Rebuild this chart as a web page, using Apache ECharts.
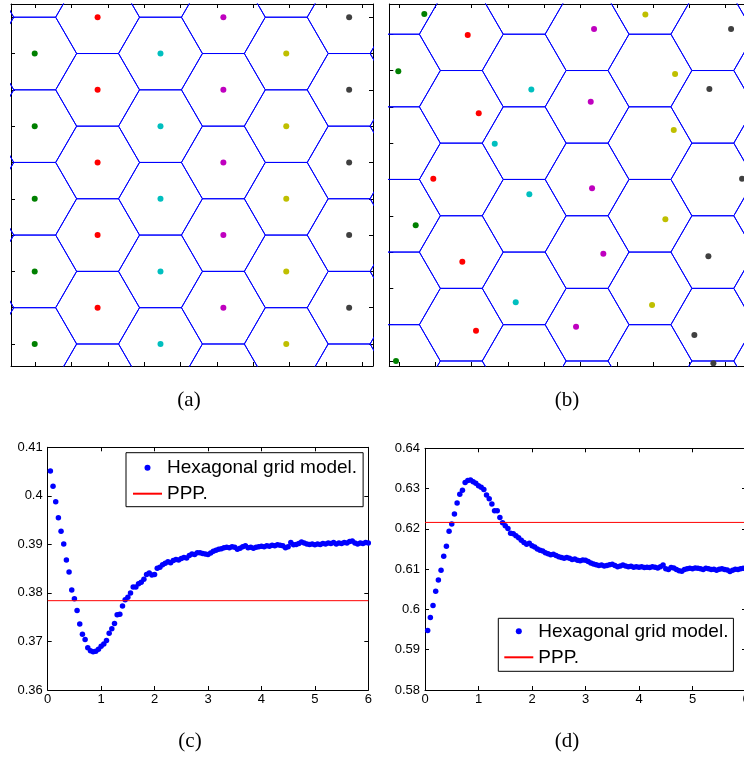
<!DOCTYPE html>
<html>
<head>
<meta charset="utf-8">
<script src="https://cdn.jsdelivr.net/npm/echarts@6.0.0/dist/echarts.min.js"></script>
<style>
html,body{margin:0;padding:0;background:#fff;}
#chart{width:744px;height:757px;}
</style>
</head>
<body>
<div id="chart"></div>
<script>
// ---------- Panels (a) and (b): hexagonal lattices and points ----------
// hexagon centre columns (axis units) and the first centre row of each column (rows every 2 units)
const hexColsA = [-1.079, 0.653, 2.385, 4.117, 5.849, 7.581, 9.313, 11.045];
const hexRow0A = [1.606, 0.606, 1.606, 0.606, 1.606, 0.606, 1.606, 0.606];
const hexColsB = [-1.481, 0.251, 1.983, 3.715, 5.447, 7.179, 8.911, 10.643];
const hexRow0B = [1.138, 0.138, 1.138, 0.138, 1.138, 0.138, 1.138, 0.138];
const rangeAB = [0, 9.97];

const ticksXA = [0.67, 1.67, 2.67, 3.67, 4.67, 5.67, 6.67, 7.67, 8.67, 9.67];
const ticksYA = [0.606, 1.606, 2.606, 3.606, 4.606, 5.606, 6.606, 7.606, 8.606, 9.606];
const ticksXB = [0.265, 1.265, 2.265, 3.265, 4.265, 5.265, 6.265, 7.265, 8.265, 9.265];
const ticksYB = [0.138, 1.138, 2.138, 3.138, 4.138, 5.138, 6.138, 7.138, 8.138, 9.138];

// (a) points (on the lattice)
const aGreen   = [[0.653,0.606],[0.653,2.606],[0.653,4.606],[0.653,6.606],[0.653,8.606]];
const aRed     = [[2.385,1.606],[2.385,3.606],[2.385,5.606],[2.385,7.606],[2.385,9.606]];
const aCyan    = [[4.117,0.606],[4.117,2.606],[4.117,4.606],[4.117,6.606],[4.117,8.606]];
const aMagenta = [[5.849,1.606],[5.849,3.606],[5.849,5.606],[5.849,7.606],[5.849,9.606]];
const aYellow  = [[7.581,0.606],[7.581,2.606],[7.581,4.606],[7.581,6.606],[7.581,8.606]];
const aGray    = [[9.313,1.606],[9.313,3.606],[9.313,5.606],[9.313,7.606],[9.313,9.606]];

// (b) points (perturbed)
const bGreen   = [[0.964,9.697],[0.248,8.118],[0.727,3.876],[0.185,0.138]];
const bRed     = [[2.160,9.118],[2.463,6.961],[1.212,5.160],[2.011,2.873],[2.388,0.972]];
const bCyan    = [[3.912,7.612],[2.904,6.124],[3.857,4.730],[3.482,1.755]];
const bMagenta = [[5.639,9.284],[5.548,7.281],[5.584,4.895],[5.895,3.094],[5.143,1.083]];
const bYellow  = [[7.052,9.678],[7.871,8.044],[7.835,6.501],[7.603,4.041],[7.237,1.680]];
const bGray    = [[9.413,9.284],[8.815,7.631],[9.716,5.160],[8.788,3.022],[8.402,0.854],[8.926,0.074]];

const dotColors = ['#008000','#ff0000','#00bfbf','#bf00bf','#bfbf00','#404040'];

// ---------- Panels (c) and (d) ----------
const xVals = [
 0.05,0.1,0.15,0.2,0.25,0.3,0.35,0.4,0.45,0.5,0.55,0.6,0.65,0.7,0.75,0.8,0.85,0.9,0.95,1,
 1.05,1.1,1.15,1.2,1.25,1.3,1.35,1.4,1.45,1.5,1.55,1.6,1.65,1.7,1.75,1.8,1.85,1.9,1.95,2,
 2.05,2.1,2.15,2.2,2.25,2.3,2.35,2.4,2.45,2.5,2.55,2.6,2.65,2.7,2.75,2.8,2.85,2.9,2.95,3,
 3.05,3.1,3.15,3.2,3.25,3.3,3.35,3.4,3.45,3.5,3.55,3.6,3.65,3.7,3.75,3.8,3.85,3.9,3.95,4,
 4.05,4.1,4.15,4.2,4.25,4.3,4.35,4.4,4.45,4.5,4.55,4.6,4.65,4.7,4.75,4.8,4.85,4.9,4.95,5,
 5.05,5.1,5.15,5.2,5.25,5.3,5.35,5.4,5.45,5.5,5.55,5.6,5.65,5.7,5.75,5.8,5.85,5.9,5.95,6
];
const hexModelC = [
 0.4051,0.4020,0.3988,0.3955,0.3927,0.3901,0.3868,0.3843,0.3806,0.3788,
 0.3764,0.3736,0.3715,0.3704,0.3687,0.3681,0.3679,0.3680,0.3684,0.3690,
 0.3695,0.3702,0.3717,0.3726,0.3737,0.3755,0.3756,0.3773,0.3786,0.3791,
 0.3800,0.3812,0.3812,0.3819,0.3822,0.3828,0.3838,0.3841,0.3837,0.3838,
 0.3851,0.3853,0.3858,0.3861,0.3864,0.3862,0.3867,0.3869,0.3868,0.3871,
 0.3873,0.3872,0.3877,0.3880,0.3879,0.3883,0.3883,0.3881,0.3880,0.3879,
 0.3882,0.3886,0.3888,0.3890,0.3891,0.3893,0.3894,0.3893,0.3895,0.3894,
 0.3890,0.3892,0.3895,0.3897,0.3893,0.3894,0.3892,0.3894,0.3895,0.3896,
 0.3895,0.3897,0.3896,0.3898,0.3897,0.3899,0.3898,0.3897,0.3893,0.3895,
 0.3904,0.3899,0.3900,0.3902,0.3905,0.3903,0.3901,0.3900,0.3901,0.3899,
 0.3901,0.3900,0.3902,0.3901,0.3903,0.3902,0.3904,0.3901,0.3903,0.3902,
 0.3904,0.3903,0.3906,0.3907,0.3903,0.3901,0.3903,0.3902,0.3904,0.3903
];
const pppC = 0.3784;
const hexModelD = [
 0.5948,0.5980,0.6010,0.6045,0.6073,0.6097,0.6132,0.6157,0.6194,0.6212,
 0.6237,0.6264,0.6286,0.6296,0.6315,0.6320,0.6321,0.6317,0.6313,0.6307,
 0.6303,0.6298,0.6284,0.6275,0.6262,0.6245,0.6245,0.6228,0.6215,0.6208,
 0.6201,0.6189,0.6188,0.6183,0.6178,0.6172,0.6166,0.6162,0.6164,0.6158,
 0.6155,0.6150,0.6147,0.6145,0.6141,0.6138,0.6136,0.6137,0.6134,0.6131,
 0.6129,0.6127,0.6129,0.6127,0.6124,0.6125,0.6122,0.6121,0.6123,0.6122,
 0.6119,0.6115,0.6113,0.6111,0.6109,0.6110,0.6108,0.6109,0.6111,0.6112,
 0.6109,0.6106,0.6108,0.6110,0.6108,0.6106,0.6107,0.6105,0.6106,0.6105,
 0.6106,0.6104,0.6105,0.6104,0.6106,0.6105,0.6103,0.6106,0.6110,0.6101,
 0.6099,0.6104,0.6103,0.6099,0.6096,0.6095,0.6099,0.6101,0.6102,0.6101,
 0.6103,0.6102,0.6101,0.6099,0.6102,0.6101,0.6099,0.6100,0.6097,0.6100,
 0.6101,0.6099,0.6098,0.6094,0.6097,0.6100,0.6099,0.6101,0.6102,0.6100
];
const pppD = 0.6216;

const ticksXC = [0, 1, 2, 3, 4, 5, 6];
const ticksYC = [0.36, 0.37, 0.38, 0.39, 0.40, 0.41];
const ticksXD = [0, 1, 2, 3, 4, 5, 6];
const ticksYD = [0.58, 0.59, 0.60, 0.61, 0.62, 0.63, 0.64];

const legendNames = ['Hexagonal grid model.', 'PPP.'];
const captions = ['(a)', '(b)', '(c)', '(d)'];

// ---------- build ----------
const HEX_R = 2 / Math.sqrt(3);   // circumradius for rows 2 units apart
function hexOutlines(cols, row0, yHi) {
  const pts = [];
  cols.forEach(function (cx, i) {
    for (let cy = row0[i] - 2; cy <= yHi + 2; cy += 2) {
      pts.push([cx + HEX_R, cy], [cx + HEX_R / 2, cy + 1], [cx - HEX_R / 2, cy + 1],
               [cx - HEX_R, cy], [cx - HEX_R / 2, cy - 1], [cx + HEX_R / 2, cy - 1],
               [cx + HEX_R, cy], ['-', '-']);
    }
  });
  return pts;
}

const labelFont = {fontFamily: 'Liberation Sans', fontSize: 13, color: '#000'};
const xAxes = [], yAxes = [];
function addFrame(gi, xr, yr, opts) {
  const base = {
    gridIndex: gi, type: 'value',
    axisLine: {show: true, onZero: false, lineStyle: {color: '#000', width: 1}},
    splitLine: {show: false}
  };
  ['bottom', 'top'].forEach(function (pos, j) {
    const ax = Object.assign({}, base, {
      position: pos, min: xr[0], max: xr[xr.length - 1],
      axisTick: {show: true, inside: true, length: 4, lineStyle: {color: '#000'}},
      axisLabel: Object.assign({show: opts.labels && j === 0, margin: 3}, labelFont)
    });
    if (opts.customX) ax.axisTick.customValues = opts.customX;
    else ax.interval = +(xr[1] - xr[0]).toFixed(6);
    xAxes.push(ax);
  });
  ['left', 'right'].forEach(function (pos, j) {
    const ax = Object.assign({}, base, {
      position: pos, min: yr[0], max: yr[yr.length - 1],
      axisTick: {show: true, inside: true, length: 4, lineStyle: {color: '#000'}},
      axisLabel: Object.assign({show: opts.labels && j === 0, margin: 5}, labelFont)
    });
    if (opts.customY) ax.axisTick.customValues = opts.customY;
    else ax.interval = +(yr[1] - yr[0]).toFixed(6);
    yAxes.push(ax);
  });
}

const gridBase = {containLabel: false, outerBoundsMode: 'none'};
const grids = [
  Object.assign({left: 11, top: 4, width: 362, height: 362}, gridBase),
  Object.assign({left: 389.3, top: 4, width: 362, height: 362}, gridBase),
  Object.assign({left: 47.7, top: 447.3, width: 320.6, height: 242.7}, gridBase),
  Object.assign({left: 425, top: 448.3, width: 321, height: 241.7}, gridBase)
];
addFrame(0, rangeAB, rangeAB, {customX: ticksXA, customY: ticksYA});
addFrame(1, rangeAB, rangeAB, {customX: ticksXB, customY: ticksYB});
addFrame(2, ticksXC, ticksYC, {labels: true});
addFrame(3, ticksXD, ticksYD, {labels: true});

const series = [];
function hexSeries(idx, cols, row0) {
  series.push({
    type: 'line', name: 'hex' + idx, xAxisIndex: idx, yAxisIndex: idx,
    data: hexOutlines(cols, row0, rangeAB[1]), symbol: 'none', silent: true,
    clip: true, connectNulls: false,
    lineStyle: {color: '#0000ff', width: 1}, z: 1
  });
}
function dotSeries(idx, groups) {
  groups.forEach(function (g, i) {
    series.push({
      type: 'scatter', name: 'pts' + idx + '_' + i, xAxisIndex: idx, yAxisIndex: idx,
      data: g, symbolSize: 6, itemStyle: {color: dotColors[i], opacity: 1}, silent: true, z: 2
    });
  });
}
hexSeries(0, hexColsA, hexRow0A);
dotSeries(0, [aGreen, aRed, aCyan, aMagenta, aYellow, aGray]);
hexSeries(2, hexColsB, hexRow0B);
dotSeries(2, [bGreen, bRed, bCyan, bMagenta, bYellow, bGray]);

function curvePanel(idx, yv, ppp, xr) {
  series.push({
    type: 'scatter', name: legendNames[0], xAxisIndex: idx, yAxisIndex: idx,
    data: xVals.map(function (x, i) { return [x, yv[i]]; }),
    symbolSize: 5.5, itemStyle: {color: '#0000ff', opacity: 1}, silent: true, z: 2
  });
  series.push({
    type: 'line', name: legendNames[1], xAxisIndex: idx, yAxisIndex: idx,
    data: [[xr[0], ppp], [xr[xr.length - 1], ppp]], symbol: 'none', silent: true,
    lineStyle: {color: '#ff0000', width: 1}, z: 3
  });
}
curvePanel(4, hexModelC, pppC, ticksXC);
curvePanel(6, hexModelD, pppD, ticksXD);

const legendBase = {
  data: [
    {name: legendNames[0]},
    {name: legendNames[1], itemStyle: {color: 'rgba(0,0,0,0)', borderWidth: 0, opacity: 0}}
  ],
  orient: 'vertical', itemWidth: 29, itemHeight: 6, itemGap: 2,
  borderColor: '#000', borderWidth: 1, backgroundColor: '#fff', selectedMode: false,
  textStyle: {fontFamily: 'Liberation Sans', fontSize: 19, color: '#000', lineHeight: 24}
};

const capPos = [[189, 400], [567, 400], [190, 741], [567, 741]];

const option = {
  animation: false,
  backgroundColor: '#fff',
  grid: grids,
  xAxis: xAxes,
  yAxis: yAxes,
  legend: [
    Object.assign({}, legendBase, {left: 126, top: 452.7, padding: [3, 6, 1, 6]}),
    Object.assign({}, legendBase, {left: 498.3, top: 618.3, padding: [1, 5, 2, 5]})
  ],
  graphic: captions.map(function (t, i) {
    return {type: 'text', x: capPos[i][0], y: capPos[i][1], silent: true,
      style: {text: t, font: '21px "Liberation Serif"', fill: '#000', align: 'center', verticalAlign: 'middle'}};
  }),
  series: series
};

const chart = echarts.init(document.getElementById('chart'), null, {renderer: 'canvas'});
chart.setOption(option);
</script>
</body>
</html>
